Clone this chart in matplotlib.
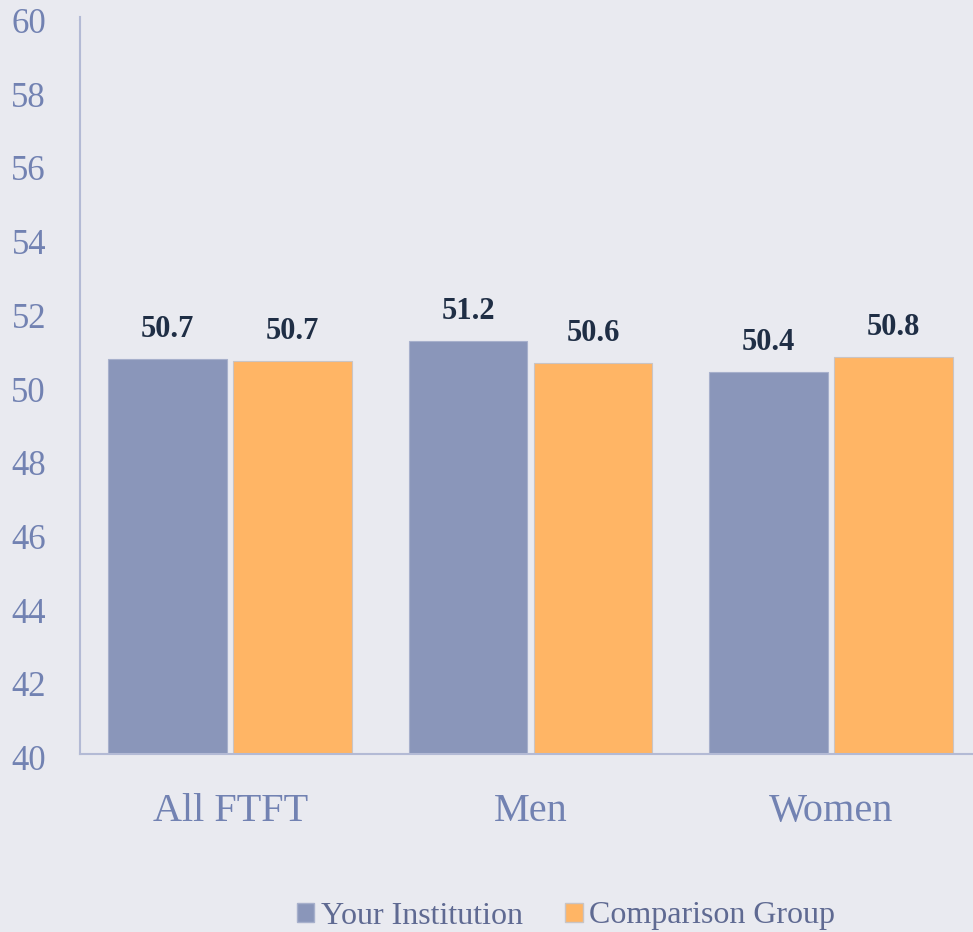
import matplotlib
matplotlib.use("Agg")
import matplotlib.pyplot as plt
import matplotlib.transforms as mtransforms
import numpy as np
from matplotlib.patches import Patch

categories = ["All FTFT", "Men", "Women"]
series_names = ["Your Institution", "Comparison Group"]
your_inst = [50.71, 51.21, 50.36]
comparison = [50.66, 50.61, 50.76]
yticks = [40, 42, 44, 46, 48, 50, 52, 54, 56, 58, 60]

bg = "#E9EAF0"
c_blue = "#8A96BA"
c_orange = "#FFB565"
tick_col = "#7282B2"
lab_col = "#1F2E45"
axis_col = "#B3BAD5"

plt.rcParams["font.family"] = ["Liberation Serif", "DejaVu Serif"]

fig = plt.figure(figsize=(9.73, 9.32), dpi=100, facecolor=bg)
ax = fig.add_axes([80/973, 1 - 754/932, 901/973, 737/932])
ax.set_facecolor(bg)

x = np.arange(len(categories))
w = 0.395
off = 0.208
b1 = ax.bar(x - off, your_inst, w, color=c_blue, edgecolor="#A7B0CC", linewidth=0.8, zorder=2)
b2 = ax.bar(x + off, comparison, w, color=c_orange, edgecolor="#C9C4C4", linewidth=0.8, zorder=2)

for bars, vals in ((b1, your_inst), (b2, comparison)):
    for rect, v in zip(bars, vals):
        ax.annotate(f"{v:.1f}", (rect.get_x() + rect.get_width()/2, v),
                    xytext=(0, 11), textcoords="offset points", ha="center", va="bottom",
                    fontsize=22, fontweight="bold", color=lab_col)

ax.set_xlim(-0.5, 2.5)
ax.set_ylim(40, 60)
ax.set_yticks(yticks)
ax.set_xticks(x)
ax.set_xticklabels(categories)
ax.tick_params(axis="y", length=0, labelleft=False)
ax.tick_params(axis="x", length=0, labelsize=29, labelcolor=tick_col, pad=28)
ytrans = ax.get_yaxis_transform() + mtransforms.ScaledTranslation(-34/100, -7.5/100, fig.dpi_scale_trans)
for yv in yticks:
    ax.text(0, yv, f"{yv}", transform=ytrans, ha="right", va="center",
            fontsize=25, color=tick_col, clip_on=False)
for s in ["top", "right"]:
    ax.spines[s].set_visible(False)
for s in ["left", "bottom"]:
    ax.spines[s].set_color(axis_col)
    ax.spines[s].set_linewidth(1.5)

handles = [Patch(facecolor=c_blue, edgecolor="#A7B0CC"), Patch(facecolor=c_orange, edgecolor="#C9C4C4")]
fig.legend(handles, series_names, loc="center", bbox_to_anchor=(566/973, 1 - 916/932),
           ncol=2, frameon=False, fontsize=23, handlelength=0.55, handleheight=0.55,
           handletextpad=0.2, columnspacing=1.33, labelcolor="#5F6A92")

fig.savefig("out.png", dpi=100, facecolor=bg)
